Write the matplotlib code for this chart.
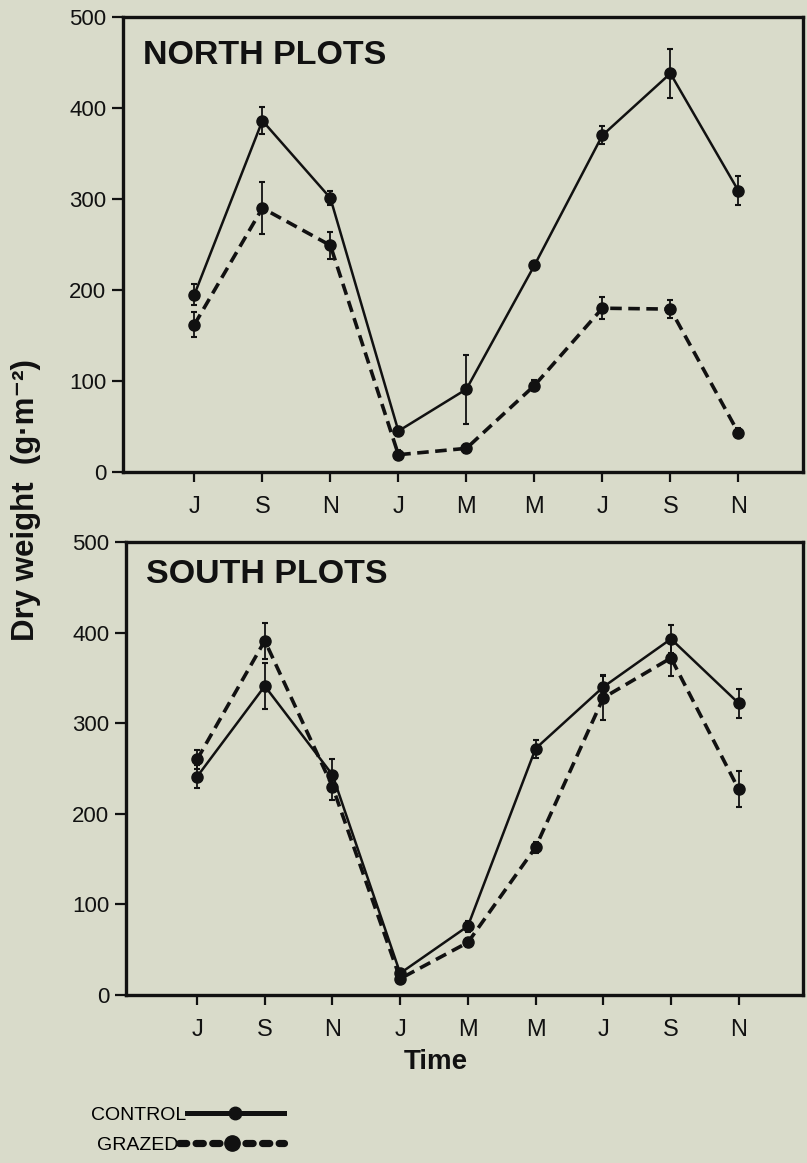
import matplotlib
matplotlib.use("Agg")
import matplotlib.pyplot as plt
from matplotlib.lines import Line2D

# months along the time axis
months = ["J", "S", "N", "J", "M", "M", "J", "S", "N"]
yticks = [0, 100, 200, 300, 400, 500]

# NORTH PLOTS
north_control = [195, 386, 301, 45, 91, 227, 370, 438, 309]
north_control_err = [12, 15, 8, 5, 38, 5, 10, 27, 16]
north_grazed = [162, 290, 249, 19, 26, 95, 180, 179, 43]
north_grazed_err = [14, 29, 15, 5, 5, 6, 12, 10, 5]

# SOUTH PLOTS
south_control = [241, 341, 243, 24, 76, 272, 340, 393, 322]
south_control_err = [13, 25, 18, 5, 6, 10, 13, 15, 16]
south_grazed = [260, 391, 230, 18, 58, 163, 328, 372, 227]
south_grazed_err = [10, 20, 15, 4, 5, 6, 24, 20, 20]

BG = "#d9dbca"
INK = "#111111"
FONT = ["Liberation Sans", "DejaVu Sans"]

plt.rcParams["font.family"] = FONT

W, H = 807, 1163
fig = plt.figure(figsize=(W / 100, H / 100), dpi=100, facecolor=BG)


def px_axes(left, top, right, bottom):
    return fig.add_axes([left / W, 1 - bottom / H, (right - left) / W, (bottom - top) / H])


def panel(ax, title, ctrl, ctrl_err, graz, graz_err, title_y):
    x = list(range(len(months)))
    ax.set_facecolor(BG)
    ax.errorbar(x, ctrl, yerr=ctrl_err, fmt="o", color=INK, ms=8,
                elinewidth=1.3, capsize=2.2, capthick=1.5, zorder=4)
    ax.plot(x, ctrl, "-", color=INK, lw=1.8, zorder=3)
    ax.errorbar(x, graz, yerr=graz_err, fmt="o", color=INK, ms=8,
                elinewidth=1.3, capsize=2.2, capthick=1.5, zorder=4)
    ax.plot(x, graz, color=INK, lw=2.6, dashes=(3.2, 1.8), zorder=3)
    ax.set_xlim(-1.05, 8.95)
    ax.set_ylim(0, 500)
    ax.set_xticks(x)
    ax.set_xticklabels(months, fontsize=17)
    ax.set_yticks(yticks)
    ax.set_yticklabels([str(v) for v in yticks], fontsize=16)
    ax.tick_params(axis="x", direction="out", length=7, width=1.6, pad=10, colors=INK)
    ax.tick_params(axis="y", direction="out", length=8, width=1.6, pad=4, colors=INK)
    for s in ax.spines.values():
        s.set_linewidth(2.4)
        s.set_color(INK)
    ax.text(0.03, title_y, title, transform=ax.transAxes, fontsize=24.5,
            fontweight="bold", color=INK, va="baseline", ha="left")


ax1 = px_axes(123, 17, 803, 472)
panel(ax1, "NORTH PLOTS", north_control, north_control_err,
      north_grazed, north_grazed_err, 0.897)

ax2 = px_axes(126, 542, 803, 995)
panel(ax2, "SOUTH PLOTS", south_control, south_control_err,
      south_grazed, south_grazed_err, 0.91)

fig.text(26 / W, 1 - 500 / H, "Dry weight  (g·m⁻²)", rotation=90,
         ha="center", va="center", fontsize=22.5, fontweight="bold",
         color=INK)
fig.text(436 / W, 1 - 1062 / H, "Time", ha="center", va="center",
         fontsize=20, fontweight="bold", color=INK)

control_handle = Line2D([], [], color=INK, lw=3.6, marker="o", ms=9)
grazed_handle = Line2D([], [], color=INK, lw=5.2, dashes=(1.0, 1.3), marker="o",
                       ms=11, dash_capstyle="round")

# two one-entry legends so each handle can have its own length
fig.legend([control_handle], ["CONTROL"], loc="upper right",
           bbox_to_anchor=(284 / W, 1 - 1106 / H), frameon=False,
           markerfirst=False, numpoints=1, handlelength=5.0,
           handletextpad=0.05, borderpad=0, borderaxespad=0,
           prop={"size": 14})
fig.legend([grazed_handle], ["GRAZED"], loc="upper right",
           bbox_to_anchor=(284 / W, 1 - 1136 / H), frameon=False,
           markerfirst=False, numpoints=1, handlelength=5.4,
           handletextpad=0.05, borderpad=0, borderaxespad=0,
           prop={"size": 14})

fig.savefig("out.png", dpi=100, facecolor=BG)
